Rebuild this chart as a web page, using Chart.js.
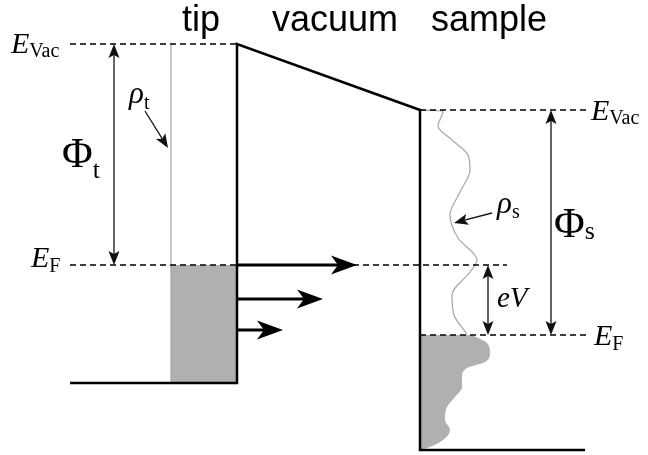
<!DOCTYPE html>
<html>
<head>
<meta charset="utf-8">
<script src="https://cdn.jsdelivr.net/npm/chart.js@4.4.1/dist/chart.umd.min.js"></script>
<style>
  html, body { margin: 0; padding: 0; background: #fff; }
  #wrap { width: 648px; height: 455px; position: relative; }
</style>
</head>
<body>
<div id="wrap"><canvas id="diagram"></canvas></div>
<script>
// ---- Energy levels (vertical axis, larger value = lower energy) ----
const tipVacuumLevel = 44;
const tipFermiLevel = 265;
const sampleVacuumLevel = 110;
const sampleFermiLevel = 335;
const tipBandBottom = 383;
const sampleBandBottom = 450;

// ---- Region edges (horizontal axis) ----
const leftLevelStart = 70;
const tipDosEdge = 171;
const tipSurface = 237;
const sampleSurface = 420;
const rightLevelEnd = 587;
const sampleBandEnd = 585;
const fermiGuideStart = 353;
const fermiGuideEnd = 507;

// Potential outline: tip band bottom, tip surface, vacuum barrier, sample surface, sample band bottom
const outlineX = [leftLevelStart, tipSurface, tipSurface, sampleSurface, sampleSurface, sampleBandEnd];
const outlineY = [tipBandBottom, tipBandBottom, tipVacuumLevel, sampleVacuumLevel, sampleBandBottom, sampleBandBottom];

// Sample density of states rho_s: energy level and curve position
const rhoSEnergy = [110, 111, 126, 140, 155, 170, 192, 215, 238, 260, 272, 295, 315, 334];
const rhoSValue  = [421, 443, 438, 452, 468, 470, 460, 450, 458, 477, 470, 452, 454, 467];
// Occupied states of the sample (below its Fermi level)
const rhoSOccEnergy = [335, 343, 353, 362, 368, 377, 387, 397, 407, 420, 430, 440, 447, 450];
const rhoSOccValue  = [472, 487, 490, 485, 467, 462, 462, 455, 447, 445, 450, 443, 430, 420];

// Tunnelling current arrows: energy of each arrow and where its head ends
const tunnelLevels = [265, 299, 330];
const tunnelEnds = [357, 323, 283];

const zip = (xs, ys) => xs.map((x, i) => ({ x: x, y: ys[i] }));
const seg = (x0, x1, y) => [{ x: x0, y: y }, { x: x1, y: y }];

const dashed = { borderColor: '#000', borderWidth: 1.5, borderDash: [6, 4], showLine: true, pointRadius: 0, fill: false };

const datasets = [
  { data: zip(outlineX, outlineY), borderColor: '#000', borderWidth: 2.5, showLine: true, pointRadius: 0,
    borderJoinStyle: 'miter', fill: false },
  Object.assign({ data: seg(leftLevelStart, tipSurface, tipVacuumLevel) }, dashed),
  Object.assign({ data: seg(leftLevelStart, tipSurface, tipFermiLevel) }, dashed),
  Object.assign({ data: seg(fermiGuideStart, fermiGuideEnd, tipFermiLevel) }, dashed),
  Object.assign({ data: seg(sampleSurface, rightLevelEnd, sampleVacuumLevel) }, dashed),
  Object.assign({ data: seg(sampleSurface, rightLevelEnd, sampleFermiLevel) }, dashed),
  // tip density of states rho_t (flat)
  { data: [{ x: tipDosEdge, y: tipVacuumLevel }, { x: tipDosEdge, y: tipBandBottom }],
    borderColor: '#ababab', borderWidth: 1.3, showLine: true, pointRadius: 0, fill: false },
  // occupied tip states
  { data: seg(tipDosEdge, tipSurface, tipFermiLevel), borderWidth: 0, showLine: true, pointRadius: 0,
    backgroundColor: '#b0b0b0', fill: { value: tipBandBottom } },
  // sample density of states rho_s
  { data: zip(rhoSValue, rhoSEnergy), indexAxis: 'y', cubicInterpolationMode: 'monotone',
    borderColor: '#ababab', borderWidth: 1.3, showLine: true, pointRadius: 0, fill: false },
  // occupied sample states
  { data: zip(rhoSOccValue, rhoSOccEnergy), indexAxis: 'y', cubicInterpolationMode: 'monotone',
    borderWidth: 0, borderColor: 'rgba(0,0,0,0)', showLine: true, pointRadius: 0,
    backgroundColor: '#b0b0b0', fill: { value: sampleSurface } }
];

// Double-headed level-difference arrows
const spanArrows = [
  { x: 114, from: tipVacuumLevel, to: tipFermiLevel },
  { x: 551, from: sampleVacuumLevel, to: sampleFermiLevel },
  { x: 488, from: tipFermiLevel, to: sampleFermiLevel }
];
// Pointer arrows for the density-of-states labels
const pointerArrows = [
  { x0: 145, y0: 111, x1: 168, y1: 148 },
  { x0: 492, y0: 213, x1: 454, y1: 223 }
];

// Text annotations: main glyph + subscript
const titles = [
  { text: 'tip', x: 201, y: 31 },
  { text: 'vacuum', x: 335, y: 31 },
  { text: 'sample', x: 489, y: 31 }
];
const mathLabels = [
  { main: 'E', sub: 'Vac', x: 11, y: 53, subDy: 4, size: 30, subSize: 20, italic: true },
  { main: 'E', sub: 'F', x: 31, y: 267, subDy: 5, size: 30, subSize: 20, italic: true },
  { main: 'E', sub: 'Vac', x: 591, y: 120, subDy: 4, size: 30, subSize: 20, italic: true },
  { main: 'E', sub: 'F', x: 594, y: 345, subDy: 5, size: 30, subSize: 20, italic: true },
  { main: '\u03A6', sub: 't', x: 62, y: 167, subDy: 11, size: 42, subSize: 26, italic: false },
  { main: '\u03A6', sub: 's', x: 554, y: 237, subDy: 2, size: 42, subSize: 26, italic: false },
  { main: '\u03C1', sub: 't', x: 129, y: 103, subDy: 6, size: 31, subSize: 20, italic: true },
  { main: '\u03C1', sub: 's', x: 497, y: 213, subDy: 5, size: 31, subSize: 20, italic: true },
  { main: 'eV', sub: '', x: 497, y: 307, subDy: 0, size: 29, subSize: 20, italic: true }
];

function arrowHead(ctx, tx, ty, ang, len, half, notch) {
  ctx.save();
  ctx.translate(tx, ty);
  ctx.rotate(ang);
  ctx.beginPath();
  ctx.moveTo(0, 0);
  ctx.lineTo(-len, half);
  ctx.lineTo(-len + notch, 0);
  ctx.lineTo(-len, -half);
  ctx.closePath();
  ctx.fill();
  ctx.restore();
}

function arrow(ctx, x0, y0, x1, y1, opts) {
  const ang = Math.atan2(y1 - y0, x1 - x0);
  const back = opts.len - opts.notch;
  ctx.beginPath();
  ctx.moveTo(x0 + (opts.double ? Math.cos(ang) * back : 0), y0 + (opts.double ? Math.sin(ang) * back : 0));
  ctx.lineTo(x1 - Math.cos(ang) * back, y1 - Math.sin(ang) * back);
  ctx.stroke();
  arrowHead(ctx, x1, y1, ang, opts.len, opts.half, opts.notch);
  if (opts.double) arrowHead(ctx, x0, y0, ang + Math.PI, opts.len, opts.half, opts.notch);
}

const annotationPlugin = {
  id: 'bandAnnotations',
  afterDatasetsDraw(chart) {
    const ctx = chart.ctx;
    const sx = chart.scales.x, sy = chart.scales.y;
    const X = v => sx.getPixelForValue(v);
    const Y = v => sy.getPixelForValue(v);
    ctx.save();
    ctx.fillStyle = '#111';
    ctx.strokeStyle = '#111';
    ctx.lineWidth = 1.3;
    ctx.lineCap = 'butt';
    spanArrows.forEach(a => arrow(ctx, X(a.x), Y(a.to), X(a.x), Y(a.from),
      { len: 14, half: 5.5, notch: 3, double: true }));
    pointerArrows.forEach(a => arrow(ctx, X(a.x0), Y(a.y0), X(a.x1), Y(a.y1),
      { len: 14, half: 5.5, notch: 3, double: false }));

    ctx.fillStyle = '#000';
    ctx.strokeStyle = '#000';
    ctx.lineWidth = 3;
    tunnelLevels.forEach((lvl, i) => arrow(ctx, X(tipSurface), Y(lvl), X(tunnelEnds[i]), Y(lvl),
      { len: 26, half: 9.5, notch: 7, double: false }));

    // Region titles
    ctx.fillStyle = '#000';
    ctx.textAlign = 'center';
    ctx.textBaseline = 'alphabetic';
    ctx.font = '36px "Liberation Sans", Arial, sans-serif';
    titles.forEach(t => ctx.fillText(t.text, X(t.x), Y(t.y)));

    // Symbols with subscripts
    ctx.textAlign = 'left';
    mathLabels.forEach(l => {
      ctx.font = (l.italic ? 'italic ' : '') + l.size + 'px "Liberation Serif", "DejaVu Serif", serif';
      const x = X(l.x), y = Y(l.y);
      ctx.fillText(l.main, x, y);
      const w = ctx.measureText(l.main).width;
      if (l.sub) {
        ctx.font = l.subSize + 'px "Liberation Serif", "DejaVu Serif", serif';
        ctx.fillText(l.sub, x + w, y + l.subDy);
      }
    });
    ctx.restore();
  }
};

new Chart(document.getElementById('diagram'), {
  type: 'scatter',
  data: { datasets: datasets },
  options: {
    responsive: true,
    maintainAspectRatio: false,
    animation: false,
    events: [],
    layout: { padding: 0 },
    plugins: { legend: { display: false }, tooltip: { enabled: false } },
    scales: {
      x: { type: 'linear', min: 0, max: 648, display: false },
      y: { type: 'linear', min: 0, max: 455, reverse: true, display: false }
    }
  },
  plugins: [annotationPlugin]
});
</script>
</body>
</html>
